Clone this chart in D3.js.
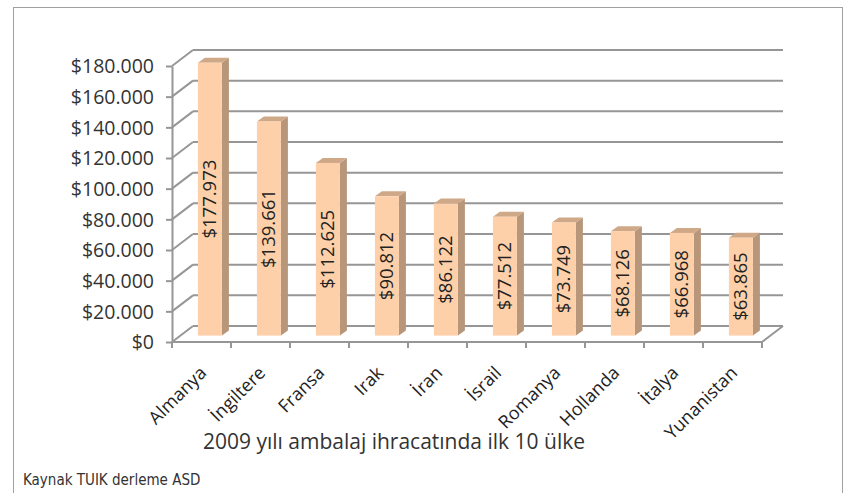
<!DOCTYPE html>
<html>
<head>
<meta charset="utf-8">
<script src="https://cdn.jsdelivr.net/npm/d3@7"></script>
<style>
  body { margin: 0; background: #fff; }
  svg { display: block; }
</style>
</head>
<body>
<svg id="chart" width="849" height="493"></svg>
<script>
// 2009 packaging exports, top 10 countries
const countries = ['Almanya', 'İngiltere', 'Fransa', 'Irak', 'İran', 'İsrail', 'Romanya', 'Hollanda', 'İtalya', 'Yunanistan'];
const exportValues = [177973, 139661, 112625, 90812, 86122, 77512, 73749, 68126, 66968, 63865];
const yTicks = [0, 20000, 40000, 60000, 80000, 100000, 120000, 140000, 160000, 180000];
const chartTitle = '2009 yılı ambalaj ihracatında ilk 10 ülke';
const sourceNote = 'Kaynak TUIK derleme ASD';

const svg = d3.select('#chart');

const front = { left: 172, right: 762, top: 66, bottom: 342 };
const depth = { x: 21, y: -16 };
const barDepth = { x: 7, y: -5 };
const barWidth = 24;
const barShift = 0.4;

const locale = d3.formatLocale({ decimal: ',', thousands: '.', grouping: [3], currency: ['$', ''] });
const fmt = locale.format('$,');

const x = d3.scaleBand()
  .domain(countries)
  .range([front.left, front.right])
  .padding(0);

const y = d3.scaleLinear()
  .domain([0, 180000])
  .range([front.bottom, front.top]);

// outer frame
svg.append('rect')
  .attr('x', 13.5)
  .attr('y', 7.5)
  .attr('width', 829)
  .attr('height', 500)
  .attr('fill', 'none')
  .attr('stroke', '#a0a0a0');

const grid = svg.append('g')
  .attr('stroke', '#969696')
  .attr('stroke-width', 2)
  .attr('fill', 'none');

// back wall gridlines
grid.selectAll('line.back')
  .data(yTicks)
  .join('line')
  .attr('class', 'back')
  .attr('x1', front.left + depth.x)
  .attr('x2', front.right + depth.x)
  .attr('y1', d => y(d) + depth.y)
  .attr('y2', d => y(d) + depth.y);

// side wall diagonals
grid.selectAll('line.side')
  .data(yTicks)
  .join('line')
  .attr('class', 'side')
  .attr('x1', front.left)
  .attr('x2', front.left + depth.x)
  .attr('y1', d => y(d))
  .attr('y2', d => y(d) + depth.y);

// floor front edge and right edge
grid.append('line')
  .attr('x1', front.left).attr('x2', front.right)
  .attr('y1', y(0)).attr('y2', y(0));
grid.append('line')
  .attr('x1', front.right).attr('x2', front.right + depth.x)
  .attr('y1', y(0)).attr('y2', y(0) + depth.y);

// x ticks at band boundaries
const bounds = countries.map(c => x(c)).concat([front.right]);
grid.selectAll('line.xt')
  .data(bounds)
  .join('line')
  .attr('class', 'xt')
  .attr('x1', d => d).attr('x2', d => d)
  .attr('y1', y(0)).attr('y2', y(0) + 6);

// y axis
const yAxis = svg.append('g')
  .attr('transform', `translate(${front.left},0)`)
  .call(d3.axisLeft(y).tickValues(yTicks).tickFormat(fmt).tickSize(6).tickSizeOuter(0).tickPadding(12));
yAxis.select('.domain').attr('stroke', '#969696').attr('stroke-width', 2);
yAxis.selectAll('.tick line').attr('stroke', '#969696').attr('stroke-width', 2);
yAxis.selectAll('.tick text')
  .attr('fill', '#333')
  .attr('font-family', 'Open Sans')
  .attr('font-size', 19.5)
  .attr('dy', '0.35em');

// bars
const baseY = y(0) + barShift * depth.y;
const bars = svg.append('g')
  .selectAll('g')
  .data(countries.map((c, i) => ({ c, v: exportValues[i] })))
  .join('g');

const barX = d => x(d.c) + x.bandwidth() / 2 + barShift * depth.x - barWidth / 2;
const barTop = d => y(d.v) + barShift * depth.y;

bars.append('polygon')
  .attr('fill', '#b8967a')
  .attr('points', d => {
    const r = barX(d) + barWidth;
    const t = barTop(d);
    return [[r, t], [r + barDepth.x, t + barDepth.y], [r + barDepth.x, baseY + barDepth.y], [r, baseY]].join(' ');
  });

bars.append('polygon')
  .attr('fill', '#cfa888')
  .attr('points', d => {
    const l = barX(d);
    const t = barTop(d);
    return [[l, t], [l + barDepth.x, t + barDepth.y], [l + barWidth + barDepth.x, t + barDepth.y], [l + barWidth, t]].join(' ');
  });

bars.append('rect')
  .attr('fill', '#fdd0a9')
  .attr('x', barX)
  .attr('y', barTop)
  .attr('width', barWidth)
  .attr('height', d => baseY - barTop(d));

bars.append('text')
  .attr('transform', d => `translate(${barX(d) + barWidth / 2},${(barTop(d) + baseY) / 2}) rotate(-90)`)
  .attr('text-anchor', 'middle')
  .attr('dy', '0.35em')
  .attr('fill', '#222')
  .attr('font-family', 'Open Sans')
  .attr('font-size', 18.5)
  .text(d => fmt(d.v));

// category labels
svg.append('g')
  .selectAll('text')
  .data(countries)
  .join('text')
  .attr('transform', d => `translate(${x(d) + x.bandwidth() / 2 + 6},${y(0) + 32}) rotate(-45)`)
  .attr('text-anchor', 'end')
  .attr('fill', '#222')
  .attr('font-family', 'Open Sans')
  .attr('font-size', 18)
  .text(d => d);

// axis title
svg.append('text')
  .attr('x', 394)
  .attr('y', 449)
  .attr('text-anchor', 'middle')
  .attr('fill', '#333')
  .attr('font-family', 'Open Sans')
  .attr('font-size', 21)
  .text(chartTitle);

// source
svg.append('text')
  .attr('x', 23)
  .attr('y', 485)
  .attr('fill', '#333')
  .attr('font-family', 'DejaVu Sans Condensed')
  .attr('font-size', 15)
  .text(sourceNote);
</script>
</body>
</html>
